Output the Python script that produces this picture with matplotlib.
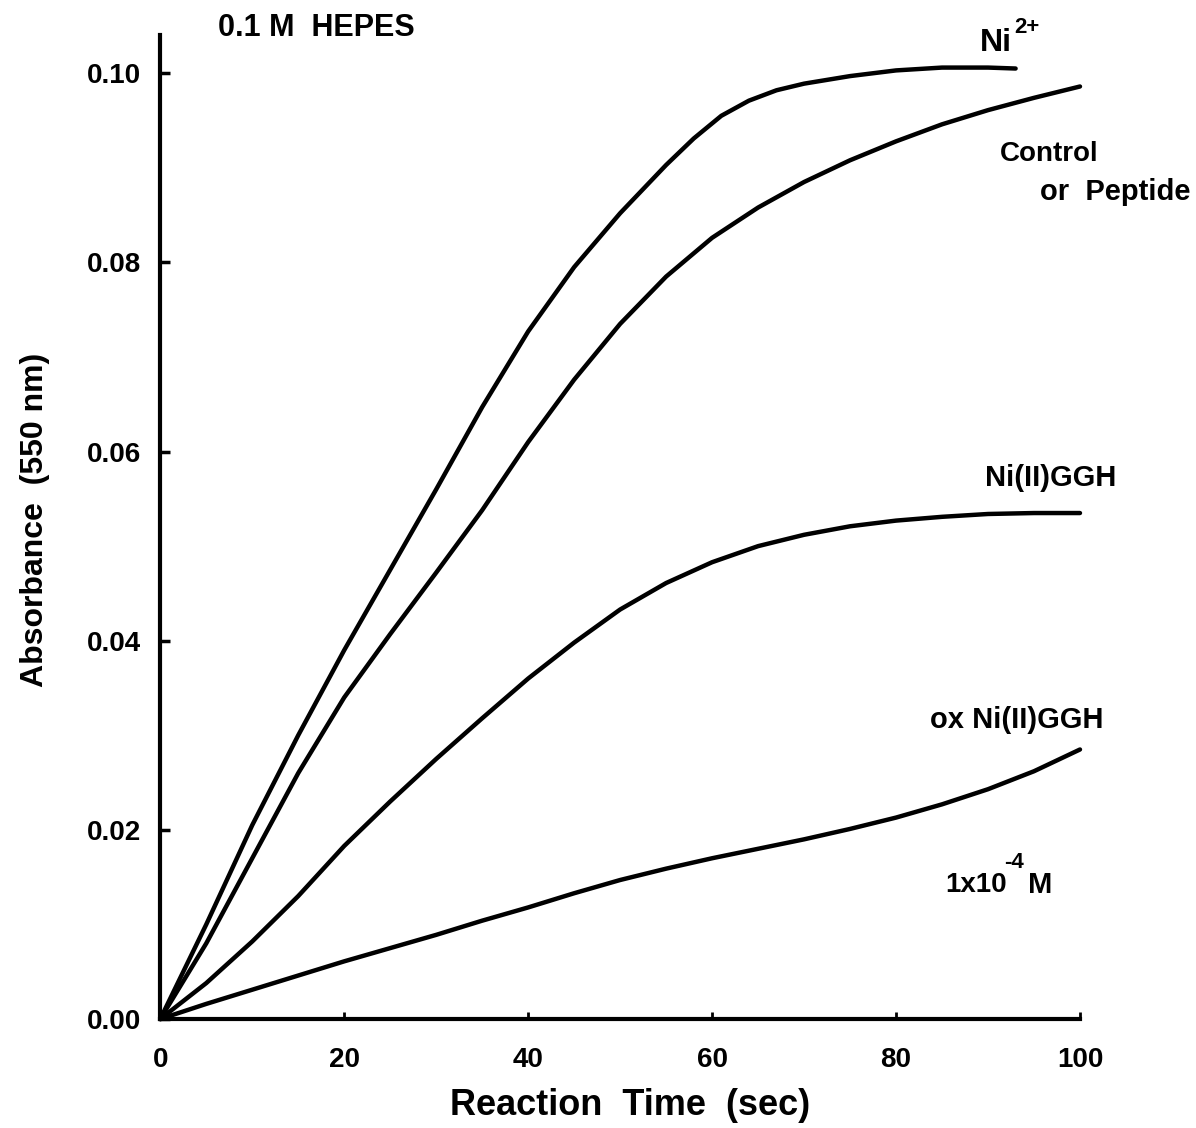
import matplotlib.pyplot as plt

plt.rcParams['font.family'] = ['Liberation Sans', 'DejaVu Sans']
plt.rcParams['font.weight'] = 'bold'

# time (sec) and absorbance at 550 nm
t_ni = [0, 5, 10, 15, 20, 25, 30, 35, 40, 45, 50, 55, 58, 61, 64, 67, 70, 75, 80, 85, 90, 93]
a_ni = [0, 0.0100, 0.0205, 0.0300, 0.0390, 0.0475, 0.0560, 0.0647, 0.0727, 0.0795,
        0.0852, 0.0903, 0.0931, 0.0955, 0.0971, 0.0982, 0.0989, 0.0997, 0.1003, 0.1006,
        0.1006, 0.1005]

t_ctrl = [0, 5, 10, 15, 20, 25, 30, 35, 40, 45, 50, 55, 60, 65, 70, 75, 80, 85, 90, 95, 100]
a_ctrl = [0, 0.0080, 0.0170, 0.0260, 0.0340, 0.0407, 0.0472, 0.0538, 0.0610, 0.0676,
          0.0735, 0.0785, 0.0826, 0.0858, 0.0885, 0.0908, 0.0928, 0.0946, 0.0961, 0.0974, 0.0986]

t_ggh = [0, 5, 10, 15, 20, 25, 30, 35, 40, 45, 50, 55, 60, 65, 70, 75, 80, 85, 90, 95, 100]
a_ggh = [0, 0.0038, 0.0082, 0.0130, 0.0183, 0.0230, 0.0275, 0.0318, 0.0360, 0.0398,
         0.0433, 0.0461, 0.0483, 0.0500, 0.0512, 0.0521, 0.0527, 0.0531, 0.0534, 0.0535, 0.0535]

t_ox = [0, 5, 10, 15, 20, 25, 30, 35, 40, 45, 50, 55, 60, 65, 70, 75, 80, 85, 90, 95, 100]
a_ox = [0, 0.0016, 0.0031, 0.0046, 0.0061, 0.0075, 0.0089, 0.0104, 0.0118, 0.0133,
        0.0147, 0.0159, 0.0170, 0.0180, 0.0190, 0.0201, 0.0213, 0.0227, 0.0243, 0.0262, 0.0285]

fig = plt.figure(figsize=(11.96, 11.28), dpi=100)
ax = fig.add_axes([0.134, 0.0966, 0.769, 0.872])

for t, a in [(t_ni, a_ni), (t_ctrl, a_ctrl), (t_ggh, a_ggh), (t_ox, a_ox)]:
    ax.plot(t, a, color='black', lw=3.2, solid_capstyle='round',
            solid_joinstyle='round', clip_on=False)

ax.set_xlim(0, 100)
ax.set_ylim(0, 0.104)
ax.set_xticks([0, 20, 40, 60, 80, 100])
ax.set_yticks([0, 0.02, 0.04, 0.06, 0.08, 0.10])
ax.set_yticklabels(['0.00', '0.02', '0.04', '0.06', '0.08', '0.10'])
ax.spines['top'].set_visible(False)
ax.spines['right'].set_visible(False)
ax.spines['left'].set_linewidth(3)
ax.spines['bottom'].set_linewidth(3)
ax.tick_params(axis='y', direction='in', length=7, width=2.5, pad=14, labelsize=20)
ax.tick_params(axis='x', direction='in', length=5, width=2, pad=20, labelsize=20)
for lab in ax.get_xticklabels() + ax.get_yticklabels():
    lab.set_fontweight('bold')

ax.set_xlabel('Reaction  Time  (sec)', fontsize=26, fontweight='bold', va='center')
ax.xaxis.set_label_coords(0.511, -0.0874)
ax.set_ylabel('Absorbance  (550 nm)', fontsize=23, fontweight='bold', va='center')
ax.yaxis.set_label_coords(-0.136, 0.507)

kw = dict(fontweight='bold', clip_on=False, va='center')
ax.text(6.3, 0.1048, '0.1 M  HEPES', fontsize=22, **kw)
ax.text(89.1, 0.1032, 'Ni', fontsize=23, **kw)
ax.text(92.8, 0.1048, '2+', fontsize=16, **kw)
ax.text(91.3, 0.0915, 'Control', fontsize=20, **kw)
ax.text(112.0, 0.0874, 'or  Peptide', fontsize=21, ha='right', **kw)
ax.text(89.7, 0.0572, 'Ni(II)GGH', fontsize=21, **kw)
ax.text(83.7, 0.0316, 'ox Ni(II)GGH', fontsize=21, **kw)
ax.text(85.3, 0.0142, '1x10', fontsize=20, **kw)
ax.text(91.7, 0.0165, '-4', fontsize=16, **kw)
ax.text(94.3, 0.0142, 'M', fontsize=21, **kw)

plt.savefig('out.png', dpi=100)
